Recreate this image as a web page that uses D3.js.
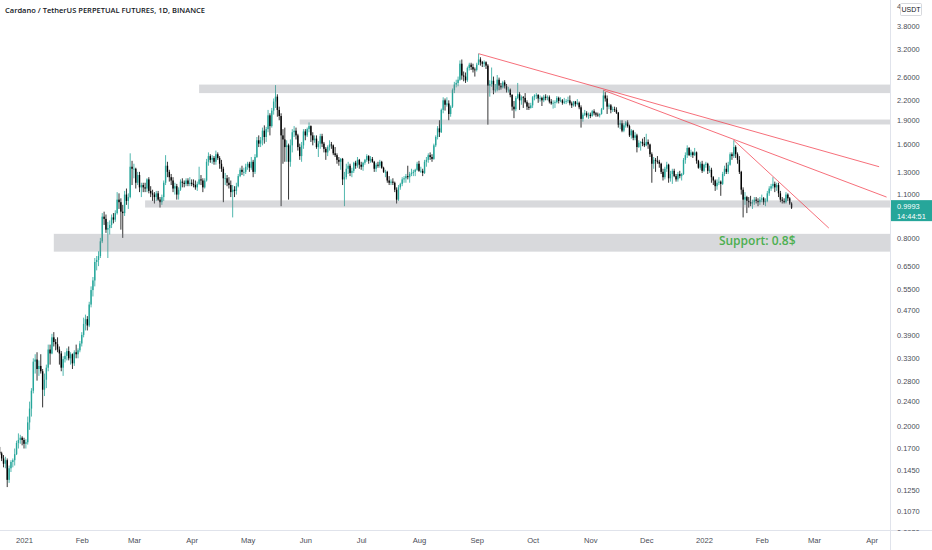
<!DOCTYPE html>
<html>
<head>
<meta charset="utf-8">
<script src="https://cdn.jsdelivr.net/npm/d3@7"></script>
<style>
  body { margin: 0; background: #ffffff; }
  svg { display: block; }
</style>
</head>
<body>
<div id="chart"></div>
<script>
// daily candles, [open, high, low, close], one array per month
var firstDay = "2020-12-19";
var dec2020 = [[0.166,0.172,0.162,0.164],[0.164,0.166,0.155,0.158],[0.158,0.162,0.148,0.152],[0.152,0.160,0.147,0.156],[0.156,0.158,0.128,0.135],[0.135,0.150,0.132,0.147],[0.147,0.156,0.143,0.154],[0.154,0.158,0.148,0.156],[0.156,0.170,0.150,0.163],[0.163,0.180,0.162,0.177],[0.177,0.190,0.170,0.181],[0.181,0.188,0.176,0.184],[0.184,0.186,0.174,0.181]];
var jan2021 = [[0.181,0.184,0.170,0.176],[0.176,0.182,0.170,0.178],[0.178,0.215,0.175,0.206],[0.206,0.240,0.195,0.228],[0.228,0.265,0.215,0.260],[0.260,0.330,0.255,0.322],[0.322,0.340,0.295,0.327],[0.327,0.345,0.280,0.305],[0.305,0.325,0.290,0.312],[0.312,0.340,0.295,0.300],[0.300,0.305,0.230,0.262],[0.262,0.295,0.250,0.282],[0.282,0.315,0.265,0.308],[0.308,0.365,0.300,0.352],[0.352,0.365,0.315,0.342],[0.342,0.395,0.340,0.385],[0.385,0.400,0.360,0.372],[0.372,0.380,0.350,0.366],[0.366,0.385,0.345,0.352],[0.352,0.360,0.315,0.342],[0.342,0.348,0.300,0.308],[0.308,0.335,0.290,0.328],[0.328,0.345,0.320,0.336],[0.336,0.355,0.325,0.348],[0.348,0.360,0.325,0.330],[0.330,0.345,0.315,0.340],[0.340,0.342,0.305,0.318],[0.318,0.350,0.312,0.345],[0.345,0.365,0.330,0.340],[0.340,0.355,0.330,0.350],[0.350,0.375,0.345,0.368]];
var feb2021 = [[0.368,0.400,0.360,0.392],[0.392,0.445,0.385,0.425],[0.425,0.455,0.405,0.440],[0.440,0.450,0.405,0.420],[0.420,0.500,0.415,0.490],[0.490,0.560,0.480,0.545],[0.545,0.600,0.520,0.585],[0.585,0.690,0.560,0.670],[0.670,0.700,0.630,0.680],[0.680,0.725,0.650,0.700],[0.700,0.800,0.690,0.780],[0.780,0.960,0.770,0.935],[0.935,0.970,0.880,0.920],[0.920,0.950,0.830,0.850],[0.850,0.900,0.690,0.860],[0.860,0.910,0.820,0.880],[0.880,0.950,0.860,0.930],[0.930,0.960,0.890,0.915],[0.915,0.980,0.900,0.960],[0.960,1.120,0.950,1.060],[1.060,1.110,0.990,1.040],[1.040,1.070,0.850,0.970],[0.970,1.020,0.800,0.960],[0.960,1.130,0.940,1.100],[1.100,1.150,1.020,1.050],[1.050,1.110,0.990,1.080],[1.080,1.490,1.070,1.350],[1.350,1.410,1.180,1.330]];
var mar2021 = [[1.33,1.38,1.24,1.33],[1.33,1.34,1.15,1.20],[1.20,1.30,1.18,1.27],[1.27,1.30,1.12,1.16],[1.16,1.20,1.08,1.18],[1.18,1.20,1.12,1.16],[1.16,1.20,1.12,1.15],[1.15,1.24,1.12,1.23],[1.23,1.25,1.11,1.13],[1.13,1.17,1.08,1.11],[1.11,1.14,1.05,1.10],[1.10,1.12,1.03,1.08],[1.08,1.13,1.05,1.11],[1.11,1.13,1.05,1.06],[1.06,1.08,1.00,1.04],[1.04,1.10,1.02,1.08],[1.08,1.22,1.05,1.20],[1.20,1.47,1.18,1.36],[1.36,1.40,1.25,1.30],[1.30,1.32,1.21,1.25],[1.25,1.28,1.18,1.22],[1.22,1.25,1.12,1.15],[1.15,1.20,1.10,1.17],[1.17,1.19,1.06,1.10],[1.10,1.16,1.06,1.14],[1.14,1.23,1.13,1.21],[1.21,1.24,1.16,1.20],[1.20,1.22,1.16,1.19],[1.19,1.24,1.17,1.22],[1.22,1.24,1.17,1.19],[1.19,1.25,1.17,1.20]];
var apr2021 = [[1.20,1.23,1.17,1.19],[1.19,1.23,1.16,1.18],[1.18,1.22,1.14,1.16],[1.16,1.21,1.13,1.19],[1.19,1.35,1.18,1.23],[1.23,1.27,1.18,1.22],[1.22,1.24,1.12,1.16],[1.16,1.24,1.15,1.22],[1.22,1.43,1.21,1.40],[1.40,1.50,1.36,1.46],[1.46,1.48,1.39,1.42],[1.42,1.47,1.38,1.44],[1.44,1.46,1.37,1.40],[1.40,1.52,1.37,1.48],[1.48,1.50,1.42,1.44],[1.44,1.46,1.33,1.38],[1.38,1.42,1.30,1.33],[1.33,1.35,1.04,1.24],[1.24,1.29,1.18,1.24],[1.24,1.27,1.17,1.20],[1.20,1.25,1.15,1.18],[1.18,1.22,1.08,1.12],[1.12,1.18,0.93,1.14],[1.14,1.17,1.08,1.13],[1.13,1.20,1.10,1.17],[1.17,1.28,1.16,1.26],[1.26,1.34,1.25,1.32],[1.32,1.36,1.27,1.30],[1.30,1.34,1.26,1.30],[1.30,1.38,1.28,1.35]];
var may2021 = [[1.35,1.40,1.32,1.38],[1.38,1.40,1.30,1.34],[1.34,1.45,1.32,1.40],[1.40,1.42,1.25,1.30],[1.30,1.48,1.28,1.45],[1.45,1.68,1.44,1.64],[1.64,1.70,1.56,1.60],[1.60,1.68,1.56,1.64],[1.64,1.80,1.58,1.76],[1.76,1.83,1.60,1.68],[1.68,1.81,1.62,1.78],[1.78,2.05,1.74,1.97],[1.97,2.00,1.70,1.82],[1.82,2.08,1.80,2.04],[2.04,2.23,1.98,2.18],[2.18,2.46,2.08,2.26],[2.26,2.30,1.95,2.05],[2.05,2.10,1.90,1.96],[1.96,2.00,1.01,1.70],[1.70,1.78,1.38,1.65],[1.65,1.80,1.40,1.56],[1.56,1.64,1.40,1.58],[1.58,1.60,1.06,1.40],[1.40,1.65,1.35,1.58],[1.58,1.78,1.50,1.74],[1.74,1.82,1.68,1.76],[1.76,1.80,1.65,1.70],[1.70,1.72,1.52,1.56],[1.56,1.60,1.42,1.46],[1.46,1.62,1.40,1.58],[1.58,1.78,1.54,1.75]];
var jun2021 = [[1.75,1.78,1.64,1.70],[1.70,1.80,1.68,1.78],[1.78,1.87,1.74,1.82],[1.82,1.83,1.62,1.70],[1.70,1.74,1.58,1.64],[1.64,1.70,1.61,1.66],[1.66,1.70,1.54,1.56],[1.56,1.63,1.45,1.60],[1.60,1.72,1.54,1.69],[1.69,1.72,1.56,1.60],[1.60,1.62,1.50,1.54],[1.54,1.56,1.42,1.50],[1.50,1.58,1.46,1.56],[1.56,1.64,1.52,1.59],[1.59,1.62,1.54,1.58],[1.58,1.59,1.47,1.49],[1.49,1.56,1.45,1.47],[1.47,1.49,1.38,1.42],[1.42,1.45,1.36,1.40],[1.40,1.44,1.32,1.43],[1.43,1.44,1.18,1.23],[1.23,1.30,1.01,1.25],[1.25,1.38,1.23,1.33],[1.33,1.40,1.28,1.36],[1.36,1.38,1.26,1.29],[1.29,1.34,1.25,1.31],[1.31,1.40,1.29,1.39],[1.39,1.41,1.33,1.36],[1.36,1.45,1.34,1.42],[1.42,1.43,1.33,1.37]];
var jul2021 = [[1.37,1.40,1.32,1.35],[1.35,1.40,1.31,1.39],[1.39,1.43,1.37,1.42],[1.42,1.48,1.40,1.46],[1.46,1.47,1.38,1.41],[1.41,1.46,1.39,1.43],[1.43,1.45,1.39,1.40],[1.40,1.41,1.30,1.33],[1.33,1.39,1.30,1.37],[1.37,1.40,1.34,1.36],[1.36,1.42,1.34,1.40],[1.40,1.41,1.33,1.34],[1.34,1.35,1.29,1.30],[1.30,1.32,1.25,1.30],[1.30,1.31,1.20,1.22],[1.22,1.26,1.18,1.20],[1.20,1.23,1.18,1.21],[1.21,1.24,1.18,1.20],[1.20,1.21,1.12,1.14],[1.14,1.16,1.03,1.06],[1.06,1.18,1.05,1.16],[1.16,1.20,1.14,1.19],[1.19,1.25,1.17,1.23],[1.23,1.26,1.20,1.24],[1.24,1.28,1.20,1.26],[1.26,1.36,1.23,1.25],[1.25,1.30,1.20,1.28],[1.28,1.33,1.26,1.29],[1.29,1.32,1.26,1.30],[1.30,1.33,1.26,1.32],[1.32,1.40,1.31,1.38]];
var aug2021 = [[1.38,1.41,1.30,1.31],[1.31,1.35,1.29,1.31],[1.31,1.33,1.26,1.29],[1.29,1.42,1.28,1.40],[1.40,1.45,1.35,1.42],[1.42,1.49,1.39,1.47],[1.47,1.50,1.42,1.45],[1.45,1.48,1.40,1.43],[1.43,1.60,1.42,1.58],[1.58,1.70,1.56,1.68],[1.68,1.82,1.65,1.79],[1.79,1.90,1.68,1.74],[1.74,2.07,1.73,2.05],[2.05,2.25,2.00,2.20],[2.20,2.23,2.04,2.13],[2.13,2.25,2.10,2.15],[2.15,2.20,1.90,1.99],[1.99,2.12,1.95,2.10],[2.10,2.40,2.08,2.37],[2.37,2.52,2.32,2.47],[2.47,2.56,2.42,2.50],[2.50,2.62,2.44,2.56],[2.56,2.95,2.54,2.88],[2.88,2.97,2.56,2.64],[2.64,2.72,2.53,2.62],[2.62,2.70,2.50,2.55],[2.55,2.82,2.52,2.79],[2.79,2.90,2.74,2.86],[2.86,2.90,2.75,2.81],[2.81,2.88,2.70,2.76],[2.76,2.80,2.62,2.75]];
var sep2021 = [[2.75,2.90,2.72,2.86],[2.86,3.10,2.85,2.97],[2.97,3.02,2.84,2.91],[2.91,2.94,2.81,2.88],[2.88,2.95,2.81,2.91],[2.91,2.93,2.77,2.84],[2.84,2.87,1.84,2.45],[2.45,2.55,2.26,2.48],[2.48,2.80,2.43,2.54],[2.54,2.62,2.30,2.37],[2.37,2.48,2.33,2.38],[2.38,2.65,2.35,2.56],[2.56,2.60,2.37,2.45],[2.45,2.50,2.38,2.42],[2.42,2.54,2.40,2.51],[2.51,2.55,2.40,2.44],[2.44,2.48,2.33,2.38],[2.38,2.43,2.33,2.38],[2.38,2.40,2.25,2.29],[2.29,2.30,2.04,2.10],[2.10,2.19,1.93,2.06],[2.06,2.27,2.03,2.24],[2.24,2.50,2.22,2.30],[2.30,2.34,2.05,2.20],[2.20,2.28,2.13,2.25],[2.25,2.27,2.08,2.24],[2.24,2.32,2.15,2.17],[2.17,2.20,2.05,2.10],[2.10,2.16,2.05,2.08],[2.08,2.16,2.07,2.12]];
var oct2021 = [[2.12,2.27,2.08,2.25],[2.25,2.30,2.20,2.28],[2.28,2.32,2.22,2.29],[2.29,2.30,2.16,2.23],[2.23,2.28,2.18,2.24],[2.24,2.26,2.11,2.20],[2.20,2.29,2.17,2.26],[2.26,2.30,2.20,2.24],[2.24,2.28,2.20,2.25],[2.25,2.28,2.15,2.18],[2.18,2.22,2.13,2.15],[2.15,2.20,2.07,2.16],[2.16,2.20,2.08,2.17],[2.17,2.27,2.15,2.24],[2.24,2.26,2.15,2.19],[2.19,2.25,2.17,2.20],[2.20,2.22,2.13,2.16],[2.16,2.24,2.14,2.18],[2.18,2.22,2.14,2.19],[2.19,2.26,2.16,2.20],[2.20,2.28,2.12,2.15],[2.15,2.18,2.08,2.12],[2.12,2.19,2.10,2.18],[2.18,2.19,2.10,2.14],[2.14,2.22,2.12,2.16],[2.16,2.18,2.06,2.09],[2.09,2.12,1.80,1.92],[1.92,2.01,1.88,1.98],[1.98,2.05,1.96,2.00],[2.00,2.03,1.94,1.97],[1.97,2.01,1.92,1.98]];
var nov2021 = [[1.98,2.01,1.93,1.96],[1.96,2.05,1.95,2.03],[2.03,2.06,1.97,2.00],[2.00,2.02,1.95,1.98],[1.98,2.01,1.95,1.97],[1.97,2.00,1.94,1.99],[1.99,2.08,1.98,2.06],[2.06,2.37,2.05,2.28],[2.28,2.34,2.18,2.23],[2.23,2.28,1.99,2.10],[2.10,2.15,2.06,2.12],[2.12,2.14,2.00,2.05],[2.05,2.10,2.02,2.06],[2.06,2.10,2.02,2.05],[2.05,2.09,1.99,2.01],[2.01,2.02,1.80,1.84],[1.84,1.90,1.78,1.86],[1.86,1.90,1.74,1.76],[1.76,1.86,1.74,1.83],[1.83,1.89,1.80,1.87],[1.87,1.90,1.80,1.82],[1.82,1.84,1.68,1.70],[1.70,1.78,1.66,1.76],[1.76,1.77,1.64,1.67],[1.67,1.74,1.64,1.70],[1.70,1.72,1.50,1.56],[1.56,1.64,1.55,1.61],[1.61,1.63,1.52,1.62],[1.62,1.66,1.57,1.60],[1.60,1.68,1.56,1.58]];
var dec2021 = [[1.58,1.72,1.57,1.62],[1.62,1.65,1.54,1.59],[1.59,1.60,1.45,1.48],[1.48,1.50,1.20,1.38],[1.38,1.45,1.33,1.42],[1.42,1.44,1.30,1.41],[1.41,1.46,1.38,1.40],[1.40,1.42,1.34,1.38],[1.38,1.39,1.28,1.30],[1.30,1.33,1.22,1.25],[1.25,1.35,1.23,1.33],[1.33,1.40,1.30,1.37],[1.37,1.38,1.20,1.24],[1.24,1.31,1.21,1.28],[1.28,1.33,1.19,1.31],[1.31,1.33,1.25,1.26],[1.26,1.28,1.21,1.23],[1.23,1.30,1.21,1.28],[1.28,1.31,1.24,1.26],[1.26,1.29,1.22,1.28],[1.28,1.44,1.27,1.42],[1.42,1.50,1.38,1.47],[1.47,1.58,1.44,1.55],[1.55,1.56,1.46,1.47],[1.47,1.53,1.45,1.50],[1.50,1.51,1.44,1.47],[1.47,1.55,1.46,1.50],[1.50,1.51,1.38,1.41],[1.41,1.42,1.33,1.34],[1.34,1.40,1.32,1.38],[1.38,1.41,1.29,1.31]];
var jan2022 = [[1.31,1.38,1.30,1.37],[1.37,1.40,1.34,1.38],[1.38,1.39,1.28,1.31],[1.31,1.36,1.29,1.32],[1.32,1.34,1.20,1.25],[1.25,1.26,1.18,1.22],[1.22,1.23,1.13,1.17],[1.17,1.23,1.14,1.20],[1.20,1.25,1.18,1.21],[1.21,1.22,1.09,1.19],[1.19,1.30,1.18,1.28],[1.28,1.36,1.26,1.33],[1.33,1.39,1.28,1.30],[1.30,1.40,1.28,1.37],[1.37,1.50,1.36,1.48],[1.48,1.50,1.42,1.46],[1.46,1.64,1.44,1.56],[1.56,1.58,1.44,1.48],[1.48,1.50,1.38,1.42],[1.42,1.46,1.28,1.30],[1.30,1.31,1.10,1.14],[1.14,1.16,0.93,1.06],[1.06,1.12,1.02,1.08],[1.08,1.09,0.96,1.05],[1.05,1.08,1.00,1.04],[1.04,1.09,1.01,1.03],[1.03,1.06,0.99,1.04],[1.04,1.08,1.02,1.06],[1.06,1.08,1.03,1.05],[1.05,1.07,1.01,1.04],[1.04,1.08,1.02,1.06]];
var feb2022 = [[1.06,1.10,1.04,1.07],[1.07,1.08,1.02,1.04],[1.04,1.07,1.01,1.05],[1.05,1.13,1.04,1.11],[1.11,1.17,1.09,1.15],[1.15,1.19,1.13,1.17],[1.17,1.25,1.15,1.19],[1.19,1.21,1.12,1.16],[1.16,1.20,1.13,1.18],[1.18,1.20,1.08,1.11],[1.11,1.13,1.04,1.06],[1.06,1.08,1.03,1.05],[1.05,1.07,1.03,1.04],[1.04,1.12,1.03,1.10],[1.10,1.11,1.05,1.07],[1.07,1.08,1.02,1.03],[1.03,1.04,0.99,0.9993]];

// axis ticks
var xTickDates = ["2021-01-01","2021-02-01","2021-03-01","2021-04-01","2021-05-01","2021-06-01","2021-07-01","2021-08-01","2021-09-01","2021-10-01","2021-11-01","2021-12-01","2022-01-01","2022-02-01","2022-03-01","2022-04-01"];
var xTickLabels = ["2021","Feb","Mar","Apr","May","Jun","Jul","Aug","Sep","Oct","Nov","Dec","2022","Feb","Mar","Apr"];
var yTicks = [4.4, 3.8, 3.2, 2.6, 2.2, 1.9, 1.6, 1.3, 1.1, 0.8, 0.65, 0.55, 0.47, 0.39, 0.33, 0.28, 0.24, 0.2, 0.17, 0.145, 0.125, 0.107, 0.092];

// drawings: gray zones (start date, top price, bottom price) and red trend lines
var zoneStart = ["2021-04-05", "2021-05-29", "2021-03-07", "2021-01-17"];
var zoneTop = [2.47, 1.91, 1.054, 0.824];
var zoneBottom = [2.32, 1.842, 1.0, 0.723];
var trendFrom = [["2021-09-02", 3.10], ["2021-11-08", 2.37], ["2022-01-17", 1.64]];
var trendTo = [["2022-04-05", 1.35], ["2022-04-09", 1.08], ["2022-03-09", 0.86]];
var supportLabel = ["2022-01-09", 0.76, "Support: 0.8$"];
var lastPrice = 0.9993;
var countdown = "14:44:51";
var title = "Cardano / TetherUS PERPETUAL FUTURES, 1D, BINANCE";

var width = 932, height = 550;
var plotRight = 890, plotBottom = 530;
var upColor = "#26a69a", downColor = "#000000";

var parse = d3.utcParse("%Y-%m-%d");

var candles = [].concat(dec2020, jan2021, feb2021, mar2021, apr2021, may2021, jun2021,
    jul2021, aug2021, sep2021, oct2021, nov2021, dec2021, jan2022, feb2022)
  .map(function(r, i) {
    return { date: d3.utcDay.offset(parse(firstDay), i), open: r[0], high: r[1], low: r[2], close: r[3] };
  });

var svg = d3.select("#chart").append("svg")
    .attr("width", width)
    .attr("height", height);

svg.append("rect").attr("width", width).attr("height", height).attr("fill", "#ffffff");

var xScale = d3.scaleUtc()
    .domain([parse("2021-01-01"), parse("2022-01-01")])
    .range([24, 704]);

var yScale = d3.scaleLog()
    .domain([0.092, 3.8])
    .range([532, 26]);

svg.append("clipPath").attr("id", "plotClip")
  .append("rect").attr("x", 0).attr("y", 0).attr("width", plotRight).attr("height", plotBottom);
// used inside the translated y axis group, so local coordinates
svg.append("clipPath").attr("id", "axisClip")
  .append("rect").attr("x", 0).attr("y", 0).attr("width", width - plotRight).attr("height", plotBottom + 1);

var plot = svg.append("g").attr("clip-path", "url(#plotClip)");

// candles
plot.selectAll("line.wick")
  .data(candles)
  .enter()
  .append("line")
    .attr("class", "wick")
    .attr("x1", d => xScale(d.date))
    .attr("x2", d => xScale(d.date))
    .attr("y1", d => yScale(d.high))
    .attr("y2", d => yScale(d.low))
    .attr("stroke", d => d.close >= d.open ? upColor : downColor)
    .attr("stroke-width", 0.8);

plot.selectAll("rect.body")
  .data(candles)
  .enter()
  .append("rect")
    .attr("class", "body")
    .attr("x", d => xScale(d.date) - 0.7)
    .attr("width", 1.4)
    .attr("y", d => yScale(Math.max(d.open, d.close)))
    .attr("height", d => Math.max(0.8, yScale(Math.min(d.open, d.close)) - yScale(Math.max(d.open, d.close))))
    .attr("fill", d => d.close >= d.open ? upColor : downColor);

// gray zones
plot.selectAll("rect.zone")
  .data(zoneStart)
  .enter()
  .append("rect")
    .attr("class", "zone")
    .attr("x", d => xScale(parse(d)))
    .attr("width", d => plotRight - xScale(parse(d)))
    .attr("y", (d, i) => yScale(zoneTop[i]))
    .attr("height", (d, i) => yScale(zoneBottom[i]) - yScale(zoneTop[i]))
    .attr("fill", "#787b86")
    .attr("opacity", 0.29);

// trend lines
plot.selectAll("line.trend")
  .data(trendFrom)
  .enter()
  .append("line")
    .attr("class", "trend")
    .attr("x1", d => xScale(parse(d[0])))
    .attr("y1", d => yScale(d[1]))
    .attr("x2", (d, i) => xScale(parse(trendTo[i][0])))
    .attr("y2", (d, i) => yScale(trendTo[i][1]))
    .attr("stroke", "#f23645")
    .attr("stroke-opacity", 0.8)
    .attr("stroke-width", 0.9);

plot.append("text")
  .attr("x", xScale(parse(supportLabel[0])))
  .attr("y", yScale(supportLabel[1]))
  .attr("font-family", "Open Sans")
  .attr("font-weight", 600)
  .attr("font-size", "12px")
  .attr("fill", "#4caf50")
  .text(supportLabel[2]);

// axis frame
svg.append("line")
  .attr("x1", plotRight + 0.5).attr("x2", plotRight + 0.5)
  .attr("y1", 0).attr("y2", height)
  .attr("stroke", "#e0e3eb");
svg.append("line")
  .attr("x1", 0).attr("x2", width)
  .attr("y1", plotBottom + 0.5).attr("y2", plotBottom + 0.5)
  .attr("stroke", "#e0e3eb");

// y axis (right)
var yAxis = d3.axisRight(yScale)
    .tickValues(yTicks)
    .tickSize(0)
    .tickPadding(7)
    .tickFormat(d3.format(".4f"));

var yAxisG = svg.append("g")
    .attr("transform", `translate(${plotRight}, 0)`)
    .attr("clip-path", "url(#axisClip)")
    .call(yAxis);
yAxisG.select(".domain").remove();
yAxisG.selectAll("text")
    .attr("font-family", "Liberation Sans")
    .attr("font-size", "7.4px")
    .attr("fill", "#4a4d57");

// x axis (bottom)
var xAxis = d3.axisBottom(xScale)
    .tickValues(xTickDates.map(parse))
    .tickSize(0)
    .tickPadding(8)
    .tickFormat((d, i) => xTickLabels[i]);

var xAxisG = svg.append("g")
    .attr("transform", `translate(0, ${plotBottom})`)
    .call(xAxis);
xAxisG.select(".domain").remove();
xAxisG.selectAll("text")
    .attr("font-family", "Liberation Sans")
    .attr("font-size", "7.6px")
    .attr("fill", "#4a4d57");

// currency badge (sits over the top price label, as in the original)
svg.append("rect")
  .attr("x", 900.5).attr("y", 3.5).attr("width", 21).attr("height", 12)
  .attr("fill", "#ffffff").attr("stroke", "#c6c8ce").attr("stroke-width", 0.7).attr("rx", 1);
svg.append("text")
  .attr("x", 911).attr("y", 12.3)
  .attr("text-anchor", "middle")
  .attr("font-family", "Liberation Sans")
  .attr("font-size", "7px")
  .attr("fill", "#131722")
  .text("USDT");

// last price badge
var py = yScale(lastPrice);
svg.append("rect")
  .attr("x", plotRight + 1).attr("y", py - 7.5).attr("width", width - plotRight - 1).attr("height", 21)
  .attr("fill", upColor);
svg.append("text")
  .attr("x", 897).attr("y", py + 1.5)
  .attr("font-family", "Liberation Sans").attr("font-size", "7.4px").attr("fill", "#ffffff")
  .text(lastPrice.toFixed(4));
svg.append("text")
  .attr("x", 897).attr("y", py + 11)
  .attr("font-family", "Liberation Sans").attr("font-size", "7.4px").attr("fill", "#ffffff")
  .text(countdown);

// title
svg.append("text")
  .attr("x", 5).attr("y", 13)
  .attr("font-family", "Open Sans")
  .attr("font-weight", 600)
  .attr("font-size", "7.6px")
  .attr("textLength", 200)
  .attr("lengthAdjust", "spacingAndGlyphs")
  .attr("fill", "#131722")
  .text(title);
</script>
</body>
</html>
